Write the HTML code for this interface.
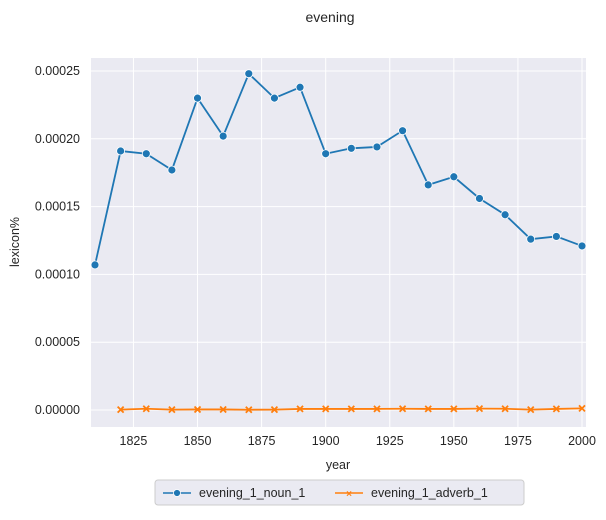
<!DOCTYPE html>
<html><head><meta charset="utf-8"><style>
body{margin:0;background:#fff;font-family:"Liberation Sans",Arial,sans-serif;}
svg text{font-family:"Liberation Sans",Arial,sans-serif;fill:#262626;}
</style></head><body>
<svg id="chart" width="606" height="515" xmlns="http://www.w3.org/2000/svg">
<text x="330" y="22" font-size="14" text-anchor="middle">evening</text>
<rect x="91" y="58" width="495" height="369" fill="#eaeaf2"/>
<g id="grid"></g>
<g id="ticks"></g>
<g id="series"></g>
<text x="338" y="469" font-size="12.5" text-anchor="middle">year</text>
<text x="19" y="242" font-size="12.5" text-anchor="middle" transform="rotate(-90 19 242)">lexicon%</text>
<g>
<rect x="155" y="480" width="369" height="25" rx="3" fill="#eaeaf2" stroke="#ccc"/>
<g>
<line x1="163" y1="493" x2="191" y2="493" stroke="#1f77b4" stroke-width="1.5"/>
<circle cx="177" cy="493" r="3.5" fill="#1f77b4" stroke="#fff" stroke-width="0.8"/>
<text x="199" y="497" font-size="12.5">evening_1_noun_1</text></g>
<g>
<line x1="335" y1="493" x2="363" y2="493" stroke="#ff7f0e" stroke-width="1.5"/>
<text x="349" y="497" font-size="10" text-anchor="middle" style="fill:#ff7f0e;font-weight:bold">×</text>
<text x="371" y="497" font-size="12.5">evening_1_adverb_1</text></g>
</g>
</svg>
<script>
const years=[1810,1820,1830,1840,1850,1860,1870,1880,1890,1900,1910,1920,1930,1940,1950,1960,1970,1980,1990,2000];
const nounVals=[107,191,189,177,230,202,248,230,238,189,193,194,206,166,172,156,144,126,128,121];
const advYears=[1820,1830,1840,1850,1860,1870,1880,1890,1900,1910,1920,1930,1940,1950,1960,1970,1980,1990,2000];
const advVals=[0.3,0.9,0.3,0.4,0.4,0.2,0.3,0.8,0.8,0.8,0.8,0.9,0.8,0.8,1.0,0.9,0.3,0.8,1.2];
const xTicks=[1825,1850,1875,1900,1925,1950,1975,2000];
const yTicks=[0,50,100,150,200,250];
const NS='http://www.w3.org/2000/svg';
const x=v=>95+(v-1810)*(487/190);
const y=v=>410-v*(339/250);
function mk(t,a,p){const e=document.createElementNS(NS,t);for(const k in a)e.setAttribute(k,a[k]);p.appendChild(e);return e;}
const grid=document.getElementById('grid'),ticks=document.getElementById('ticks'),ser=document.getElementById('series');
xTicks.forEach(t=>{
 const l=mk('line',{x1:x(t),x2:x(t),y1:58,y2:427,stroke:'#fff','stroke-width':1},grid);
 
 
 const tx=mk('text',{x:x(t),y:445,'font-size':12.5,'text-anchor':'middle'},ticks);tx.textContent=t;
 
 
});
yTicks.forEach(t=>{
 const l=mk('line',{x1:91,x2:586,y1:y(t),y2:y(t),stroke:'#fff','stroke-width':1},grid);
 
 
 const tx=mk('text',{x:80,y:y(t)+4,'font-size':12.5,'text-anchor':'end'},ticks);tx.textContent=(t/1e6).toFixed(5);
 
 
});
const np=mk('polyline',{points:years.map((v,i)=>x(v)+','+y(nounVals[i])).join(' '),fill:'none',stroke:'#1f77b4','stroke-width':1.8},ser);


years.forEach((v,i)=>{const c=mk('circle',{cx:x(v),cy:y(nounVals[i]),r:4,fill:'#1f77b4',stroke:'#fff','stroke-width':0.8},ser);
 
 });
const ap=mk('polyline',{points:advYears.map((v,i)=>x(v)+','+y(advVals[i])).join(' '),fill:'none',stroke:'#ff7f0e','stroke-width':1.8},ser);


advYears.forEach((v,i)=>{const cx=x(v),cy=y(advVals[i]);
 const g=mk('path',{d:`M${cx-3},${cy-3}L${cx+3},${cy+3}M${cx-3},${cy+3}L${cx+3},${cy-3}`,stroke:'#ff7f0e','stroke-width':1.8},ser);
 
 });
</script>
</body></html>
